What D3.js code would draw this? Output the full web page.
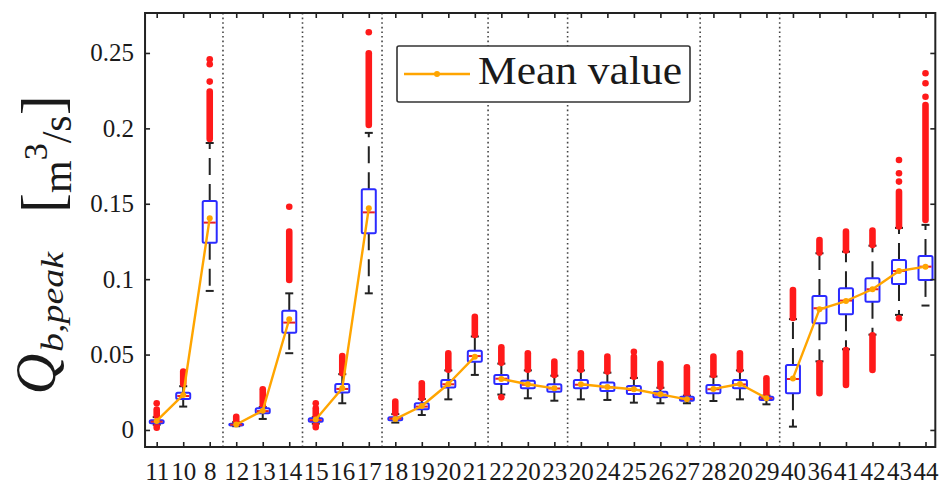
<!DOCTYPE html>
<html>
<head>
<meta charset="utf-8">
<script src="https://cdn.jsdelivr.net/npm/d3@7"></script>
<style>
  html, body { margin: 0; padding: 0; background: #fff; }
  svg { display: block; }
  text { font-family: "Liberation Serif", "Times New Roman", serif; fill: #1a1a1a; }
</style>
</head>
<body>
<svg id="chart" width="939" height="488"></svg>
<script>
// Station labels along the x axis (some repeat, e.g. the reference gauge 20)
const labels = ["11","10","8","12","13","14","15","16","17","18","19","20","21","22","20","23",
                "20","24","25","26","27","28","20","29","40","36","41","42","43","44"];
// Number of stations in each dotted-line separated group
const groupSizes = [3, 3, 3, 4, 3, 5, 3, 6];

// Box-plot statistics of Q_b,peak [m3/s]
const q1 =      [0.0045,0.0205,0.1242,0.0030,0.0110,0.0645,0.0055,0.0248,0.1304,0.0065,0.0137,0.0281,0.0453,0.0305,0.0276,
                 0.0254,0.0276,0.0259,0.0239,0.0217,0.0194,0.0243,0.0276,0.0199,0.0243,0.0708,0.0767,0.0851,0.0968,0.0995];
const median =  [0.0055,0.0225,0.1375,0.0035,0.0125,0.0712,0.0065,0.0272,0.1443,0.0075,0.0155,0.0303,0.0490,0.0340,0.0300,
                 0.0275,0.0300,0.0283,0.0265,0.0234,0.0205,0.0270,0.0302,0.0210,0.0338,0.0807,0.0858,0.0933,0.1054,0.1083];
const q3 =      [0.0065,0.0247,0.1518,0.0042,0.0144,0.0791,0.0078,0.0305,0.1596,0.0085,0.0177,0.0332,0.0526,0.0365,0.0327,
                 0.0303,0.0332,0.0314,0.0292,0.0254,0.0221,0.0298,0.0332,0.0221,0.0431,0.0889,0.0940,0.1006,0.1127,0.1154];
const whiskerLow =  [0.0035,0.0155,0.0922,0.0025,0.0073,0.0509,0.0042,0.0177,0.0906,0.0049,0.0099,0.0203,0.0365,0.0235,0.0210,
                     0.0194,0.0203,0.0199,0.0181,0.0177,0.0177,0.0192,0.0203,0.0170,0.0022,0.0455,0.0535,0.0632,0.0763,0.0825];
const whiskerHigh = [0.0085,0.0290,0.1903,0.0052,0.0152,0.0906,0.0085,0.0370,0.1970,0.0105,0.0205,0.0395,0.0620,0.0440,0.0395,
                     0.0360,0.0395,0.0380,0.0345,0.0280,0.0228,0.0355,0.0395,0.0228,0.0735,0.1172,0.1182,0.1222,0.1340,0.1360];
const means =   [0.0060,0.0232,0.1404,0.0036,0.0128,0.0734,0.0070,0.0276,0.1470,0.0072,0.0159,0.0305,0.0486,0.0338,0.0303,
                 0.0276,0.0303,0.0285,0.0270,0.0236,0.0203,0.0272,0.0305,0.0210,0.0342,0.0800,0.0855,0.0933,0.1054,0.1083];
// Dense runs of outliers [low, high] and isolated outliers
const outlierRuns = [
  [[0.0015,0.0030],[0.0095,0.0135]], [[0.0305,0.0387]], [[0.1930,0.2244]],
  [[0.0058,0.0088]], [[0.0160,0.0270]], [[0.0995,0.1315]],
  [[0.0018,0.0035],[0.0090,0.0144]], [[0.0376,0.0490]], [[0.2022,0.2498]],
  [[0.0112,0.0188]], [[0.0212,0.0310]], [[0.0400,0.0509]], [[0.0630,0.0751]],
  [[0.0445,0.0548]], [[0.0400,0.0509]], [[0.0365,0.0453]],
  [[0.0400,0.0509]], [[0.0387,0.0486]], [[0.0353,0.0485]], [[0.0287,0.0438]], [[0.0232,0.0416]],
  [[0.0365,0.0486]], [[0.0400,0.0509]], [[0.0232,0.0343]],
  [[0.0743,0.0928]], [[0.0243,0.0442],[0.1175,0.1260]], [[0.0298,0.0530],[0.1190,0.1315]],
  [[0.0398,0.0628],[0.1227,0.1322]], [[0.1350,0.1580]], [[0.1393,0.2155]]
];
const outlierPoints = [
  [0.0177], [], [0.2310,0.2425,0.2458],
  [], [], [0.1480],
  [0.0177], [], [0.2637],
  [], [], [], [],
  [0.0217], [], [],
  [], [], [0.0519], [], [],
  [], [], [],
  [], [], [], [], [0.0741,0.1647,0.1702,0.1790], [0.2210,0.2299,0.2365]
];
const yTicks = [0, 0.05, 0.1, 0.15, 0.2, 0.25];
const yTickLabels = ["0", "0.05", "0.1", "0.15", "0.2", "0.25"];

const svg = d3.select("#chart");

const x = d3.scaleLinear().domain([0, labels.length - 1]).range([156.7, 925.5]);
const y = d3.scaleLinear().domain([-0.0113, 0.2765]).range([447, 13]);
const frameL = x(-0.44), frameR = x(29.37), frameT = y.range()[1], frameB = y.range()[0];

const plot = svg.append("g");

// group separators (dotted)
let acc = 0;
const sepPos = [];
groupSizes.slice(0, -1).forEach(n => { acc += n; sepPos.push(acc - 0.5); });
plot.selectAll("line.sep").data(sepPos).join("line")
  .attr("class", "sep")
  .attr("x1", d => x(d)).attr("x2", d => x(d))
  .attr("y1", frameT).attr("y2", frameB)
  .attr("stroke", "#444").attr("stroke-width", 1.6)
  .attr("stroke-dasharray", "1.6,3");

const idx = d3.range(labels.length);
const halfBox = 7, halfCap = 4;

// whiskers (dashed, drawn outward from the box)
plot.selectAll("line.wlo").data(idx).join("line")
  .attr("class", "wlo")
  .attr("x1", i => x(i)).attr("x2", i => x(i))
  .attr("y1", i => y(q1[i])).attr("y2", i => y(whiskerLow[i]))
  .attr("stroke", "#222").attr("stroke-width", 2).attr("stroke-dasharray", "17,9");
plot.selectAll("line.whi").data(idx).join("line")
  .attr("class", "whi")
  .attr("x1", i => x(i)).attr("x2", i => x(i))
  .attr("y1", i => y(q3[i])).attr("y2", i => y(whiskerHigh[i]))
  .attr("stroke", "#222").attr("stroke-width", 2).attr("stroke-dasharray", "17,9");
// whisker caps
[["caplo", whiskerLow], ["caphi", whiskerHigh]].forEach(([cls, arr]) => {
  plot.selectAll("line." + cls).data(idx).join("line")
    .attr("class", cls)
    .attr("x1", i => x(i) - halfCap).attr("x2", i => x(i) + halfCap)
    .attr("y1", i => y(arr[i])).attr("y2", i => y(arr[i]))
    .attr("stroke", "#222").attr("stroke-width", 2);
});

// outliers
const runs = idx.flatMap(i => outlierRuns[i].map(r => ({ i, lo: r[0], hi: r[1] })));
plot.selectAll("line.run").data(runs).join("line")
  .attr("class", "run")
  .attr("x1", d => x(d.i)).attr("x2", d => x(d.i))
  .attr("y1", d => y(d.lo)).attr("y2", d => y(d.hi))
  .attr("stroke", "#ff1a1a").attr("stroke-width", 6.6).attr("stroke-linecap", "round");
const pts = idx.flatMap(i => outlierPoints[i].map(v => ({ i, v })));
plot.selectAll("circle.out").data(pts).join("circle")
  .attr("class", "out")
  .attr("cx", d => x(d.i)).attr("cy", d => y(d.v)).attr("r", 3.3)
  .attr("fill", "#ff1a1a");

// boxes
plot.selectAll("rect.box").data(idx).join("rect")
  .attr("class", "box")
  .attr("x", i => x(i) - halfBox).attr("width", halfBox * 2)
  .attr("y", i => y(q3[i])).attr("height", i => Math.max(1, y(q1[i]) - y(q3[i])))
  .attr("rx", 1.5)
  .attr("fill", "none").attr("stroke", "#2b2bff").attr("stroke-width", 2);
// medians
plot.selectAll("line.med").data(idx).join("line")
  .attr("class", "med")
  .attr("x1", i => x(i) - halfBox + 1).attr("x2", i => x(i) + halfBox - 1)
  .attr("y1", i => y(median[i])).attr("y2", i => y(median[i]))
  .attr("stroke", "#e8202a").attr("stroke-width", 2);

// mean value line, one polyline per group
const groups = [];
acc = 0;
groupSizes.forEach(n => { groups.push(d3.range(acc, acc + n)); acc += n; });
const meanLine = d3.line().x(i => x(i)).y(i => y(means[i]));
plot.selectAll("path.mean").data(groups).join("path")
  .attr("class", "mean")
  .attr("d", meanLine)
  .attr("fill", "none").attr("stroke", "#ffa500").attr("stroke-width", 2.4)
  .attr("stroke-linejoin", "round");
plot.selectAll("circle.meanpt").data(idx).join("circle")
  .attr("class", "meanpt")
  .attr("cx", i => x(i)).attr("cy", i => y(means[i])).attr("r", 3)
  .attr("fill", "#ffa500");

// frame
svg.append("rect")
  .attr("x", frameL).attr("y", frameT).attr("width", frameR - frameL).attr("height", frameB - frameT)
  .attr("fill", "none").attr("stroke", "#222").attr("stroke-width", 2);

// axes (inward ticks on all four sides)
const styleAxis = g => {
  g.select(".domain").remove();
  g.selectAll(".tick line").attr("stroke", "#222").attr("stroke-width", 1.6);
  g.selectAll("text").attr("fill", "#1a1a1a")
    .style("font-family", "'Liberation Serif', serif").style("font-size", "25px");
};
svg.append("g").attr("transform", `translate(0,${frameB})`)
  .call(d3.axisBottom(x).tickValues(idx).tickFormat(i => labels[i])
        .tickSizeInner(-5).tickSizeOuter(0).tickPadding(15))
  .call(styleAxis);
svg.append("g").attr("transform", `translate(0,${frameT})`)
  .call(d3.axisTop(x).tickValues(idx).tickFormat("").tickSizeInner(-5).tickSizeOuter(0))
  .call(styleAxis);
svg.append("g").attr("transform", `translate(${frameL},0)`)
  .call(d3.axisLeft(y).tickValues(yTicks).tickFormat((d, k) => yTickLabels[k])
        .tickSizeInner(-5).tickSizeOuter(0).tickPadding(11))
  .call(styleAxis);
svg.append("g").attr("transform", `translate(${frameR},0)`)
  .call(d3.axisRight(y).tickValues(yTicks).tickFormat("").tickSizeInner(-5).tickSizeOuter(0))
  .call(styleAxis);

// y axis title: Q_{b,peak} [m^3/s]
svg.append("text")
  .attr("transform", "translate(55,374) rotate(-90)")
  .attr("text-anchor", "middle")
  .style("font-size", "56px").style("font-style", "italic")
  .text("Q");
svg.append("text")
  .attr("transform", "translate(63,352) rotate(-90)")
  .attr("text-anchor", "start")
  .style("font-size", "32px").style("font-style", "italic")
  .attr("textLength", 100).attr("lengthAdjust", "spacingAndGlyphs")
  .text("b,peak");
const units = svg.append("text")
  .attr("transform", "translate(71,213) rotate(-90)")
  .attr("text-anchor", "start");
units.append("tspan").style("font-size", "60px").attr("baseline-shift", "9").text("[");
units.append("tspan").style("font-size", "42px").text("m");
units.append("tspan").style("font-size", "34px").attr("baseline-shift", "24").text("3");
units.append("tspan").style("font-size", "42px").text("/s");
units.append("tspan").style("font-size", "60px").attr("baseline-shift", "9").text("]");

// legend
const leg = svg.append("g");
leg.append("rect").attr("x", 397).attr("y", 46).attr("width", 293).attr("height", 56).attr("rx", 2)
  .attr("fill", "#fff").attr("stroke", "#333").attr("stroke-width", 1.6);
leg.append("line").attr("x1", 404).attr("x2", 470).attr("y1", 74).attr("y2", 74)
  .attr("stroke", "#ffa500").attr("stroke-width", 2.4);
leg.append("circle").attr("cx", 437).attr("cy", 74).attr("r", 3).attr("fill", "#ffa500");
leg.append("text").attr("x", 478).attr("y", 84)
  .style("font-size", "40px")
  .attr("textLength", 204).attr("lengthAdjust", "spacingAndGlyphs")
  .text("Mean value");
</script>
</body>
</html>
